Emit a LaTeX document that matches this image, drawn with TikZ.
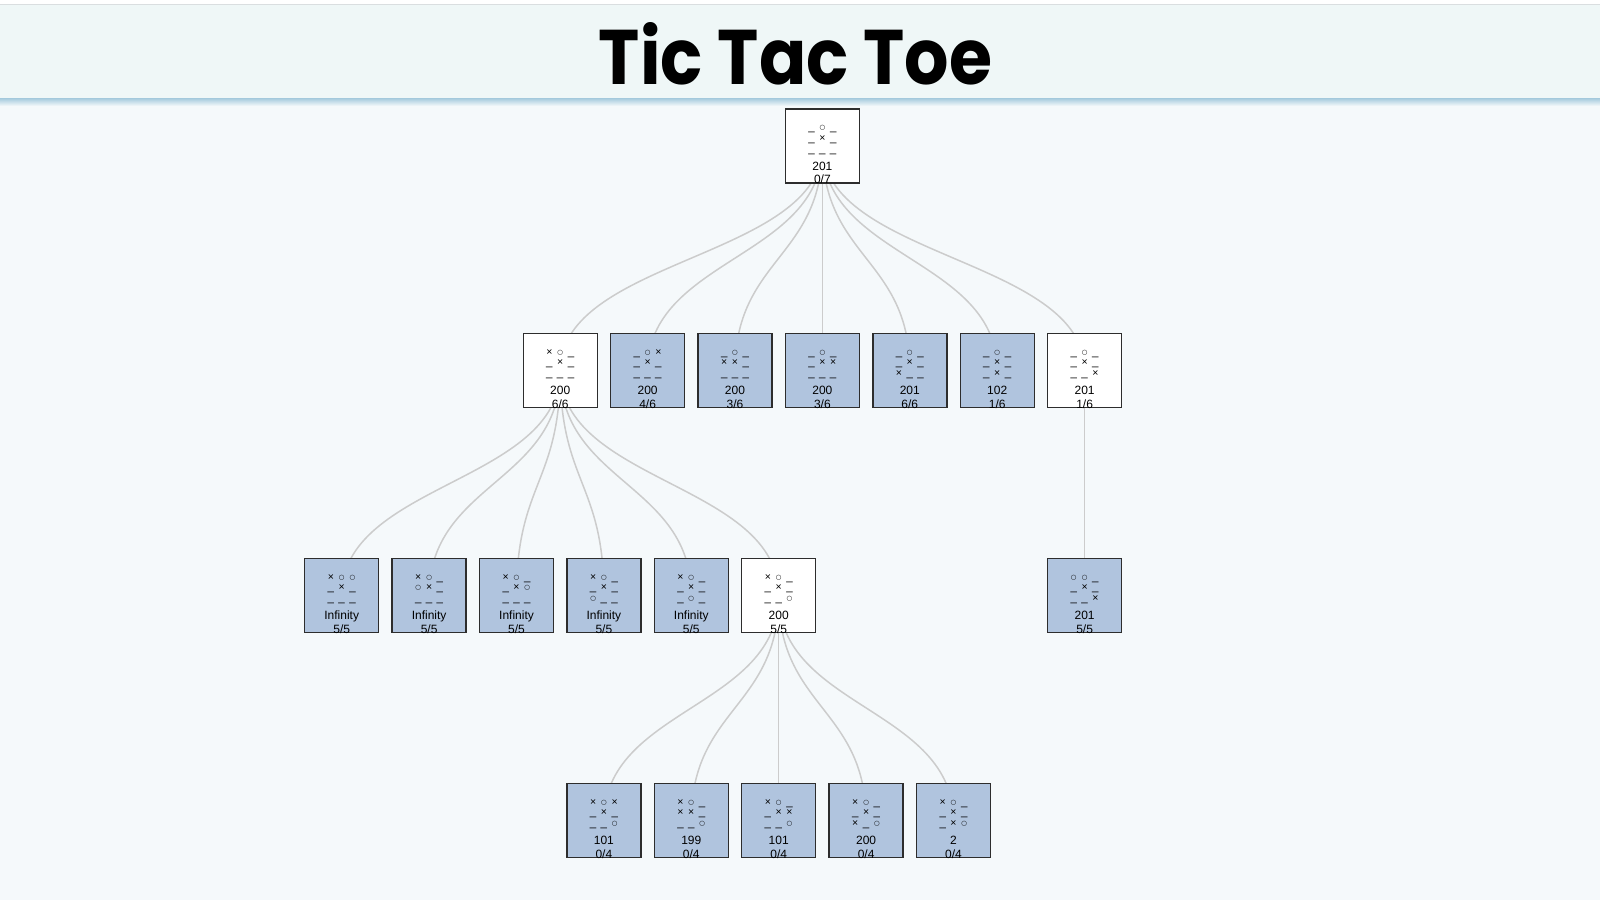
\documentclass[tikz,border=0pt]{standalone}
\usepackage{fontspec}
\setmainfont{Liberation Sans}
\newfontfamily\titlefont{Poppins}
\newfontfamily\symfont{DejaVu Sans}
\usetikzlibrary{calc}
\definecolor{bodybg}{RGB}{245,249,251}
\definecolor{headbg}{RGB}{239,247,247}
\definecolor{headline}{RGB}{218,222,224}
\definecolor{shadowc}{RGB}{168,204,222}
\definecolor{nodeblue}{RGB}{176,196,222}
\definecolor{nodeedge}{RGB}{45,45,45}
\definecolor{linkc}{RGB}{204,204,204}
\pgfdeclarelayer{back}
\pgfdeclarelayer{links}
\pgfsetlayers{back,links,main}

\newcommand\bcx{\makebox[10.8pt]{\fontsize{10.5}{10.5}\selectfont ×}}
\newcommand\bco{\makebox[10.8pt]{\raisebox{1.4pt}{\symfont\fontsize{6.5}{6.5}\selectfont ○}}}
\newcommand\bce{\makebox[10.8pt]{\fontsize{11.5}{11.5}\selectfont \_}}
\newcommand\brow[3]{\csname bc#1\endcsname\csname bc#2\endcsname\csname bc#3\endcsname}

\tikzset{
  tbox/.style={draw=nodeedge, line width=1.4pt, minimum width=74pt, minimum height=74pt, inner sep=0pt, fill=nodeblue},
  wbox/.style={tbox, fill=white},
  btxt/.style={inner sep=0pt, anchor=base},
  ntxt/.style={btxt, font=\fontsize{12}{12}\selectfont},
  link/.style={draw=linkc, line width=1.5pt},
}

\newcommand\board[6]{%
  \node[btxt] (#1r1) at ([shift={(0,-15)}]#1.center) {\brow#2};
  \node[btxt] (#1r2) at ([shift={(0,-4.5)}]#1.center) {\brow#3};
  \node[btxt] (#1r3) at ([shift={(0,6.2)}]#1.center) {\brow#4};
  \node[ntxt] (#1s) at ([shift={(0,24.5)}]#1.center) {#5};
  \node[ntxt] (#1v) at ([shift={(0,37.8)}]#1.center) {#6};
}

\newcommand\link[2]{%
  \path (#1.center) -- coordinate[pos=0.5] (lm) (#2.center);
  \draw[link] (#1.center) .. controls (#1.center |- lm) and (#2.center |- lm) .. (#2.center);
}

\begin{document}
\begin{tikzpicture}[x=1pt,y=-1pt]
\useasboundingbox (0,0) rectangle (1600,900);
\begin{pgfonlayer}{back}
  \fill[bodybg] (0,0) rectangle (1600,900);
  \fill[white] (0,0) rectangle (1600,4);
  \fill[headbg] (0,4) rectangle (1600,99);
  \draw[headline, line width=1pt] (0,4) -- (1600,4);
  \shade[top color=shadowc, bottom color=bodybg] (0,98.5) rectangle (1600,106);
\end{pgfonlayer}

\node[anchor=base, inner sep=0pt] (title) at (795.5,84.5) {\resizebox{393pt}{62pt}{\titlefont\bfseries Tic Tac Toe}};

% level 0
\node[wbox] (r) at (822.4,145.9) {};
% level 1
\node[wbox] (a1) at (560.2,370.4) {};
\node[tbox] (a2) at (647.6,370.4) {};
\node[tbox] (a3) at (735.0,370.4) {};
\node[tbox] (a4) at (822.4,370.4) {};
\node[tbox] (a5) at (909.8,370.4) {};
\node[tbox] (a6) at (997.2,370.4) {};
\node[wbox] (a7) at (1084.6,370.4) {};
% level 2
\node[tbox] (b1) at (341.7,595.4) {};
\node[tbox] (b2) at (429.1,595.4) {};
\node[tbox] (b3) at (516.5,595.4) {};
\node[tbox] (b4) at (603.9,595.4) {};
\node[tbox] (b5) at (691.3,595.4) {};
\node[wbox] (b6) at (778.7,595.4) {};
\node[tbox] (b7) at (1084.6,595.4) {};
% level 3
\node[tbox] (c1) at (603.9,820.4) {};
\node[tbox] (c2) at (691.3,820.4) {};
\node[tbox] (c3) at (778.7,820.4) {};
\node[tbox] (c4) at (866.1,820.4) {};
\node[tbox] (c5) at (953.5,820.4) {};

\begin{pgfonlayer}{links}
  \foreach \c in {a1,a2,a3,a4,a5,a6,a7} {\link{r}{\c}}
  \foreach \c in {b1,b2,b3,b4,b5,b6} {\link{a1}{\c}}
  \link{a7}{b7}
  \foreach \c in {c1,c2,c3,c4,c5} {\link{b6}{\c}}
\end{pgfonlayer}

\board{r}{eoe}{exe}{eee}{201}{0/7}

\board{a1}{xoe}{exe}{eee}{200}{6/6}
\board{a2}{eox}{exe}{eee}{200}{4/6}
\board{a3}{eoe}{xxe}{eee}{200}{3/6}
\board{a4}{eoe}{exx}{eee}{200}{3/6}
\board{a5}{eoe}{exe}{xee}{201}{6/6}
\board{a6}{eoe}{exe}{exe}{102}{1/6}
\board{a7}{eoe}{exe}{eex}{201}{1/6}

\board{b1}{xoo}{exe}{eee}{Infinity}{5/5}
\board{b2}{xoe}{oxe}{eee}{Infinity}{5/5}
\board{b3}{xoe}{exo}{eee}{Infinity}{5/5}
\board{b4}{xoe}{exe}{oee}{Infinity}{5/5}
\board{b5}{xoe}{exe}{eoe}{Infinity}{5/5}
\board{b6}{xoe}{exe}{eeo}{200}{5/5}
\board{b7}{ooe}{exe}{eex}{201}{5/5}

\board{c1}{xox}{exe}{eeo}{101}{0/4}
\board{c2}{xoe}{xxe}{eeo}{199}{0/4}
\board{c3}{xoe}{exx}{eeo}{101}{0/4}
\board{c4}{xoe}{exe}{xeo}{200}{0/4}
\board{c5}{xoe}{exe}{exo}{2}{0/4}
\end{tikzpicture}
\end{document}
